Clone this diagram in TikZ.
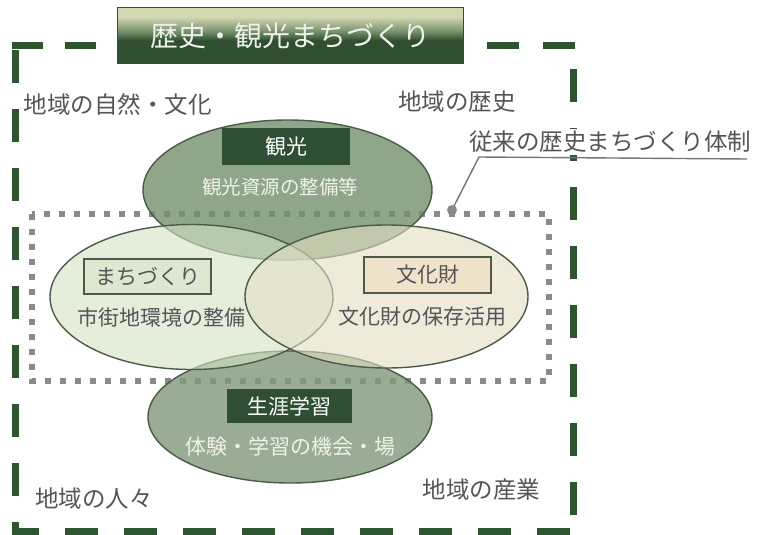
\documentclass[tikz,border=0pt]{standalone}
\usepackage{fontspec}
\setmainfont{Noto Sans CJK JP}
\usetikzlibrary{shapes.geometric}
\definecolor{frameg}{HTML}{2D5530}
\definecolor{dotgray}{HTML}{8A8A8A}
\definecolor{sageA}{HTML}{73906E}
\definecolor{sageB}{HTML}{81987C}
\definecolor{paleG}{HTML}{D4E3C3}
\definecolor{paleB}{HTML}{E3DFC3}
\definecolor{ellline}{HTML}{4A5C46}
\definecolor{boxdark}{HTML}{2E4F33}
\definecolor{labelgray}{HTML}{555555}
\definecolor{whiteish}{HTML}{EEF2EA}
\definecolor{boxG}{HTML}{DCE8D0}
\definecolor{boxB}{HTML}{EFE3CC}
\definecolor{boxline}{HTML}{4D5A48}
\definecolor{tlight}{HTML}{D3D7B2}
\definecolor{tmid}{HTML}{7C9670}
\definecolor{tdark}{HTML}{2F4F30}
\pgfdeclareverticalshading{titleshade}{100bp}{color(0bp)=(tdark); color(25bp)=(tdark); color(46bp)=(tdark); color(55bp)=(tmid); color(67bp)=(tlight); color(100bp)=(tlight)}
\begin{document}
\begin{tikzpicture}[x=1pt,y=-1pt,
  framedash/.style={frameg, line width=7pt},
  ell/.style={ellipse, draw=ellline, line width=1.4pt, inner sep=0pt},
  darkbox/.style={fill=boxdark, text=white, inner sep=0pt, font=\fontsize{21}{24}\selectfont},
  palebox/.style={draw=boxline, line width=1.6pt, text=labelgray, inner sep=0pt, font=\fontsize{21}{24}\selectfont},
  arealbl/.style={text=labelgray, inner sep=0pt, font=\fontsize{23.5}{26}\selectfont},
  desclbl/.style={inner sep=0pt, font=\fontsize{21}{24}\selectfont}]
\useasboundingbox (0,0) rectangle (768,535);
\fill[white] (0,0) rectangle (768,535);

% outer dashed frame
\coordinate (ftl) at (15,46);
\coordinate (fbl) at (15,531);
\coordinate (fbr) at (573,531);
\coordinate (ftr) at (573,46);
\coordinate (ftl2) at (11.5,46);
\coordinate (ftitleL) at (117,46);
\coordinate (ftitleR) at (463,46);
\coordinate (ftr2) at (576.5,46);
\draw[framedash, dash pattern=on 33pt off 26pt, dash phase=55pt] (ftl) -- (fbl) -- (fbr);
\draw[framedash, dash pattern=on 33pt off 26pt, dash phase=43pt] (fbr) -- (ftr);
\draw[framedash, dash pattern=on 31pt off 22pt] (ftl2) -- (ftitleL);
\draw[framedash, dash pattern=on 32pt off 24pt, dash phase=32pt] (ftitleR) -- (ftr2);

% dotted frame (traditional system)
\draw[dotgray, line width=6pt, dash pattern=on 6pt off 9pt] (32,214) rectangle (549,381);

% ellipses
\node[ell, fill=sageA, fill opacity=0.8, minimum width=289pt, minimum height=140pt] (kanko) at (287.5,190) {};
\node[ell, fill=sageB, fill opacity=0.8, minimum width=284pt, minimum height=132pt] (gakushu) at (290,417) {};
\node[ell, fill=paleG, fill opacity=0.6, minimum width=283pt, minimum height=145pt] (machi) at (191.5,297) {};
\node[ell, fill=paleB, fill opacity=0.6, minimum width=283pt, minimum height=143pt] (bunka) at (386.5,296.5) {};

% title
\node[draw=tdark, line width=1pt, shading=titleshade, minimum width=346pt, minimum height=56pt, inner sep=0pt,
  text=whiteish, font=\fontsize{28}{32}\selectfont] (title) at (290,36) {歴史・観光まちづくり};

% area labels
\node[arealbl] (shizen) at (117.5,104) {地域の自然・文化};
\node[arealbl] (rekishi) at (457,102) {地域の歴史};
\node[arealbl] (hitobito) at (94,499) {地域の人々};
\node[arealbl] (sangyo) at (481.5,490) {地域の産業};
\node[arealbl, fill=white, inner sep=2pt] (juurai) at (610,142) {従来の歴史まちづくり体制};

% connector to label
\coordinate (dot) at (452,210);
\coordinate (bend) at (479,157);
\coordinate (lineend) at (747,159);
\draw[dotgray!85!black, line width=1.4pt] (dot) -- (bend) -- (lineend);
\fill[dotgray] (dot) circle [radius=5pt];

% boxes and descriptions
\node[darkbox, minimum width=128pt, minimum height=37pt] (bkanko) at (286,146.5) {観光};
\node[desclbl, text=whiteish, font=\fontsize{19.5}{22}\selectfont] (dkanko) at (280,187) {観光資源の整備等};

\node[palebox, fill=boxG, minimum width=127pt, minimum height=35pt] (bmachi) at (147.5,276.5) {まちづくり};
\node[desclbl, text=labelgray] (dmachi) at (161,317) {市街地環境の整備};

\node[palebox, fill=boxB, minimum width=127pt, minimum height=36pt] (bbunka) at (427.5,275) {文化財};
\node[desclbl, text=labelgray] (dbunka) at (422,317) {文化財の保存活用};

\node[darkbox, minimum width=125pt, minimum height=34pt] (bgaku) at (289.5,406) {生涯学習};
\node[desclbl, text=whiteish] (dgaku) at (290,447) {体験・学習の機会・場};
\end{tikzpicture}
\end{document}
